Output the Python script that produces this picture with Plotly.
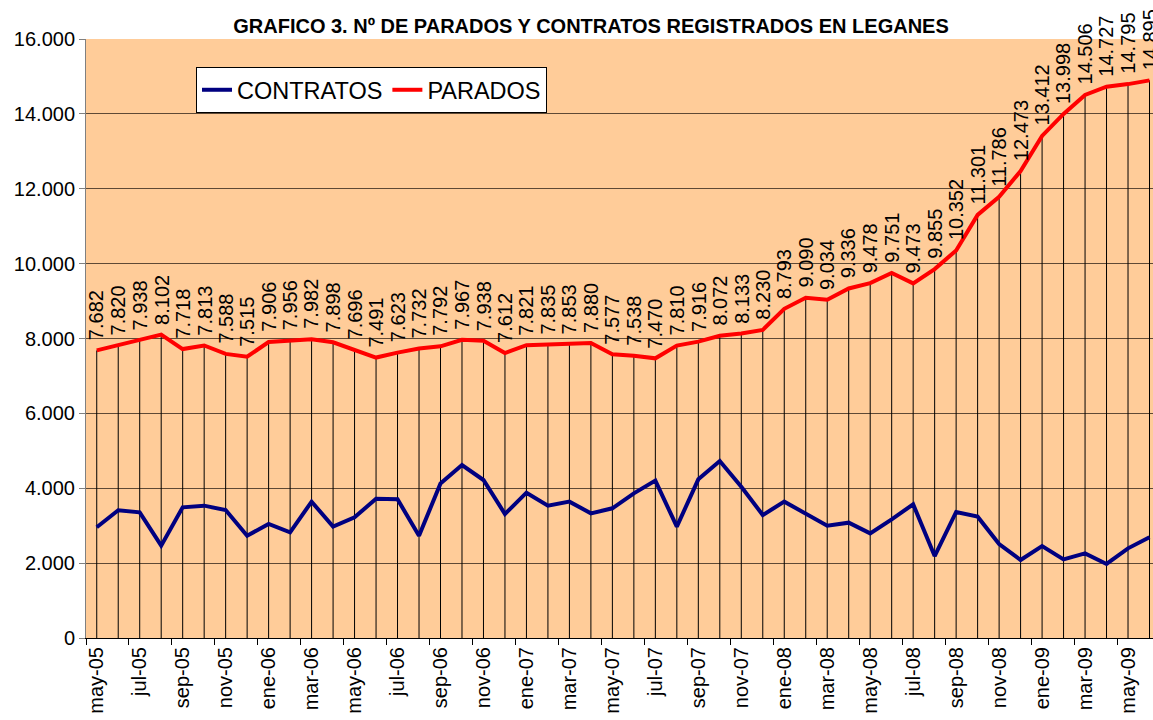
import plotly.graph_objects as go

months = ["may-05","jun-05","jul-05","ago-05","sep-05","oct-05","nov-05","dic-05",
          "ene-06","feb-06","mar-06","abr-06","may-06","jun-06","jul-06","ago-06","sep-06","oct-06","nov-06","dic-06",
          "ene-07","feb-07","mar-07","abr-07","may-07","jun-07","jul-07","ago-07","sep-07","oct-07","nov-07","dic-07",
          "ene-08","feb-08","mar-08","abr-08","may-08","jun-08","jul-08","ago-08","sep-08","oct-08","nov-08","dic-08",
          "ene-09","feb-09","mar-09","abr-09","may-09","jun-09"]

parados = [7682, 7820, 7938, 8102, 7718, 7813, 7588, 7515,
           7906, 7956, 7982, 7898, 7696, 7491, 7623, 7732, 7792, 7967, 7938, 7612,
           7821, 7835, 7853, 7880, 7577, 7538, 7470, 7810, 7916, 8072, 8133, 8230,
           8793, 9090, 9034, 9336, 9478, 9751, 9473, 9855, 10352, 11301, 11786, 12473,
           13412, 13998, 14506, 14727, 14795, 14895]

contratos = [2957, 3411, 3357, 2466, 3491, 3535, 3419, 2733,
             3045, 2822, 3642, 2974, 3223, 3722, 3704, 2733, 4125, 4621, 4220, 3312,
             3882, 3535, 3642, 3330, 3464, 3864, 4203, 2974, 4238, 4728, 4042, 3285,
             3642, 3312, 3000, 3080, 2795, 3170, 3571, 2190, 3366, 3241, 2511, 2083,
             2457, 2101, 2261, 1977, 2395, 2689]

y_ticks = [0, 2000, 4000, 6000, 8000, 10000, 12000, 14000, 16000]

def fmt(v):
    return f"{v:,}".replace(",", ".")

idx = list(range(len(months)))

# drop lines from PARADOS to axis
dx, dy = [], []
for i, v in zip(idx, parados):
    dx += [i, i, None]
    dy += [0, v, None]

fig = go.Figure()
fig.add_trace(go.Scatter(x=dx, y=dy, mode="lines", line=dict(color="black", width=1),
                         showlegend=False, hoverinfo="skip"))
fig.add_trace(go.Scatter(x=idx, y=contratos, mode="lines", name="CONTRATOS",
                         line=dict(color="#000080", width=4)))
fig.add_trace(go.Scatter(x=idx, y=parados, mode="lines", name="PARADOS",
                         line=dict(color="#FF0000", width=4)))

for i, v in zip(idx, parados):
    fig.add_annotation(x=i, y=v, text=fmt(v), textangle=-90, showarrow=False,
                       xanchor="center", yanchor="bottom", yshift=8,
                       font=dict(family="Liberation Sans, Arial", size=20, color="black"))

fig.update_layout(
    width=1153, height=720,
    margin=dict(l=86, r=0, t=39, b=82, autoexpand=False),
    paper_bgcolor="white", plot_bgcolor="#FFCC99",
    separators=",.",
    font=dict(family="Liberation Sans, Arial", color="black"),
    title=dict(text="<b>GRAFICO 3. Nº DE PARADOS Y CONTRATOS REGISTRADOS EN LEGANES</b>",
               x=591/1153, xanchor="center", y=1 - 26/720, yanchor="middle", yref="container",
               xref="container", font=dict(size=20, family="Liberation Sans, Arial")),
    legend=dict(orientation="h", x=(196-86)/1067, y=(638-67)/599, xanchor="left", yanchor="top",
                bgcolor="white", bordercolor="black", borderwidth=1,
                font=dict(size=23.5, family="Liberation Sans, Arial")),
    showlegend=True,
)

fig.update_xaxes(
    range=[-0.5, (1153-96)/21.5], showgrid=False, zeroline=False, automargin=False,
    tickmode="array", tickvals=idx[::2], ticktext=months[::2], tickangle=-90,
    ticks="", tickfont=dict(size=20),
    showline=True, linecolor="black", linewidth=1,
    minor=dict(tickmode="array", tickvals=[i - 0.5 for i in idx[::2]] + [49.5],
               ticks="outside", ticklen=6, tickcolor="black", showgrid=False),
)
fig.update_yaxes(
    range=[0, 16000], tickmode="array", tickvals=y_ticks, automargin=False,
    ticktext=[fmt(v) for v in y_ticks], tickfont=dict(size=20),
    showgrid=True, gridcolor="rgba(40,30,20,0.75)", gridwidth=1, zeroline=False,
    ticks="outside", ticklen=6, tickcolor="#808080",
    showline=True, linecolor="#808080", linewidth=1, mirror=True,
)

fig.write_html("out.html", config={"displayModeBar": False},
               post_script="document.body.style.margin='0';document.body.style.overflow='hidden';")
